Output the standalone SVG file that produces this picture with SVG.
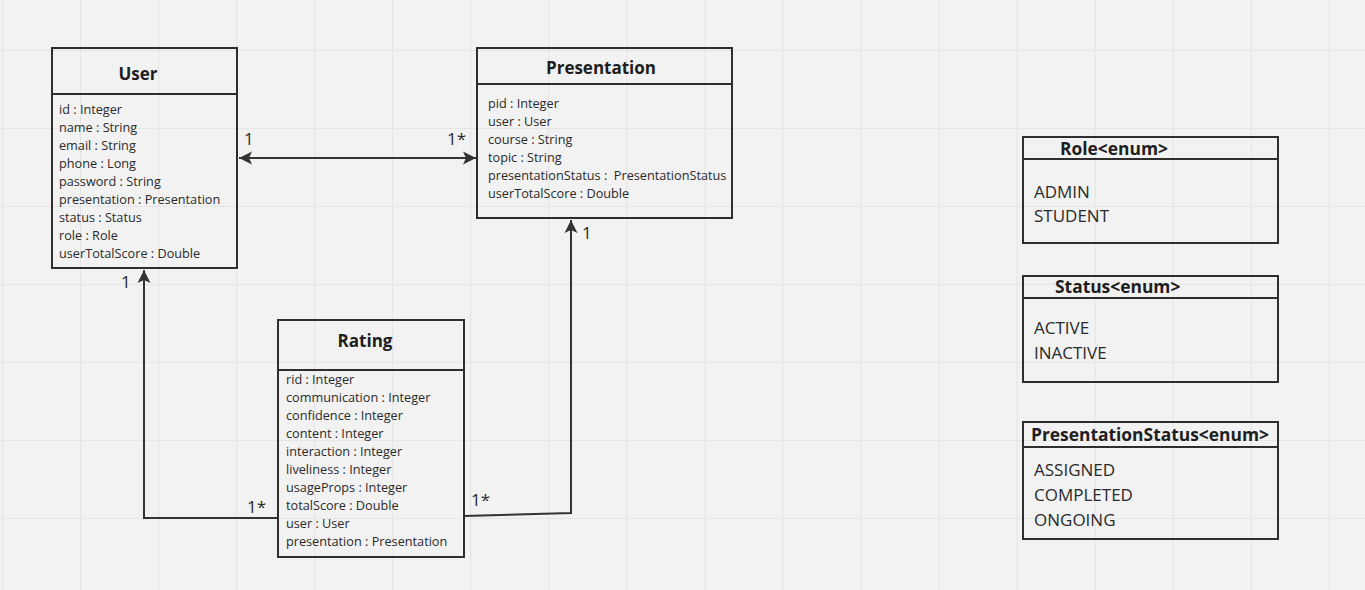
<svg xmlns="http://www.w3.org/2000/svg" width="1365" height="590" viewBox="0 0 1365 590">
<style>
.box{fill:none;stroke:#2e2e2e;stroke-width:2}
.title{font-family:"Open Sans","Liberation Sans",sans-serif;font-weight:bold;font-size:17px;fill:#1e1e1e}
.etitle{font-family:"Open Sans","Liberation Sans",sans-serif;font-weight:bold;font-size:17.4px;fill:#1e1e1e}
.attr{font-family:"Open Sans","Liberation Sans",sans-serif;font-size:12.7px;fill:#2a2a2a}
.item{font-family:"Open Sans","Liberation Sans",sans-serif;font-size:17px;fill:#2a2a2a}
.mult{font-family:"Open Sans","Liberation Sans",sans-serif;font-size:17px;fill:#2a2a2a}
.conn{fill:none;stroke:#333;stroke-width:2}
.grid{stroke:#e0e0e0;stroke-width:1.5}
</style>
<defs>
<pattern id="g" x="2" y="50" width="78.05" height="78" patternUnits="userSpaceOnUse">
<line class="grid" x1="0" y1="0" x2="0" y2="78"/>
<line class="grid" x1="0" y1="0" x2="78.05" y2="0"/>
</pattern>
<marker id="ah" markerWidth="14" markerHeight="14" refX="13" refY="7" orient="auto-start-reverse" markerUnits="userSpaceOnUse">
<path d="M0,0.5 L13,7 L0,13.5 L3,7 z" fill="#333"/>
</marker>
</defs>
<rect width="1365" height="590" fill="#f2f2f2"/>
<rect width="1365" height="590" fill="url(#g)"/>

<g id="connectors">
<line class="conn" x1="239" y1="158" x2="476" y2="158" marker-start="url(#ah)" marker-end="url(#ah)"/>
<polyline class="conn" points="278,518 144,518 144,270" marker-end="url(#ah)"/>
<polyline class="conn" points="464,516 571,513 571,220" marker-end="url(#ah)"/>
<text class="mult" x="244" y="145">1</text>
<text class="mult" x="447" y="145">1*</text>
<text class="mult" x="121" y="288">1</text>
<text class="mult" x="247" y="513">1*</text>
<text class="mult" x="471" y="506">1*</text>
<text class="mult" x="582" y="239">1</text>
</g>

<g id="user">
<rect class="box" x="52" y="48" width="185" height="220"/>
<line class="box" x1="52" y1="94" x2="237" y2="94"/>
<text class="title" x="138" y="80" text-anchor="middle">User</text>
<text class="attr" x="59" y="114">id : Integer</text>
<text class="attr" x="59" y="132">name : String</text>
<text class="attr" x="59" y="150">email : String</text>
<text class="attr" x="59" y="168">phone : Long</text>
<text class="attr" x="59" y="186">password : String</text>
<text class="attr" x="59" y="204">presentation : Presentation</text>
<text class="attr" x="59" y="222">status : Status</text>
<text class="attr" x="59" y="240">role : Role</text>
<text class="attr" x="59" y="258">userTotalScore : Double</text>
</g>

<g id="presentation">
<rect class="box" x="477" y="48" width="255" height="170"/>
<line class="box" x1="477" y1="84" x2="732" y2="84"/>
<text class="title" x="601" y="74" text-anchor="middle">Presentation</text>
<text class="attr" x="488" y="108">pid : Integer</text>
<text class="attr" x="488" y="126">user : User</text>
<text class="attr" x="488" y="144">course : String</text>
<text class="attr" x="488" y="162">topic : String</text>
<text class="attr" x="488" y="180" xml:space="preserve">presentationStatus :  PresentationStatus</text>
<text class="attr" x="488" y="198">userTotalScore : Double</text>
</g>

<g id="rating">
<rect class="box" x="278" y="320" width="186" height="237"/>
<line class="box" x1="278" y1="370" x2="464" y2="370"/>
<text class="title" x="365" y="347" text-anchor="middle">Rating</text>
<text class="attr" x="286" y="384">rid : Integer</text>
<text class="attr" x="286" y="402">communication : Integer</text>
<text class="attr" x="286" y="420">confidence : Integer</text>
<text class="attr" x="286" y="438">content : Integer</text>
<text class="attr" x="286" y="456">interaction : Integer</text>
<text class="attr" x="286" y="474">liveliness : Integer</text>
<text class="attr" x="286" y="492">usageProps : Integer</text>
<text class="attr" x="286" y="510">totalScore : Double</text>
<text class="attr" x="286" y="528">user : User</text>
<text class="attr" x="286" y="546">presentation : Presentation</text>
</g>

<g id="role">
<rect class="box" x="1023" y="137" width="255" height="106"/>
<line class="box" x1="1023" y1="159" x2="1278" y2="159"/>
<text class="etitle" x="1060" y="155">Role&lt;enum&gt;</text>
<text class="item" x="1034" y="198">ADMIN</text>
<text class="item" x="1034" y="222">STUDENT</text>
</g>

<g id="status">
<rect class="box" x="1023" y="276" width="255" height="106"/>
<line class="box" x1="1023" y1="298" x2="1278" y2="298"/>
<text class="etitle" x="1055" y="293">Status&lt;enum&gt;</text>
<text class="item" x="1034" y="334">ACTIVE</text>
<text class="item" x="1034" y="359">INACTIVE</text>
</g>

<g id="presentationstatus">
<rect class="box" x="1023" y="422" width="255" height="117"/>
<line class="box" x1="1023" y1="447" x2="1278" y2="447"/>
<text class="etitle" x="1031" y="441">PresentationStatus&lt;enum&gt;</text>
<text class="item" x="1034" y="476">ASSIGNED</text>
<text class="item" x="1034" y="501">COMPLETED</text>
<text class="item" x="1034" y="526">ONGOING</text>
</g>
</svg>
